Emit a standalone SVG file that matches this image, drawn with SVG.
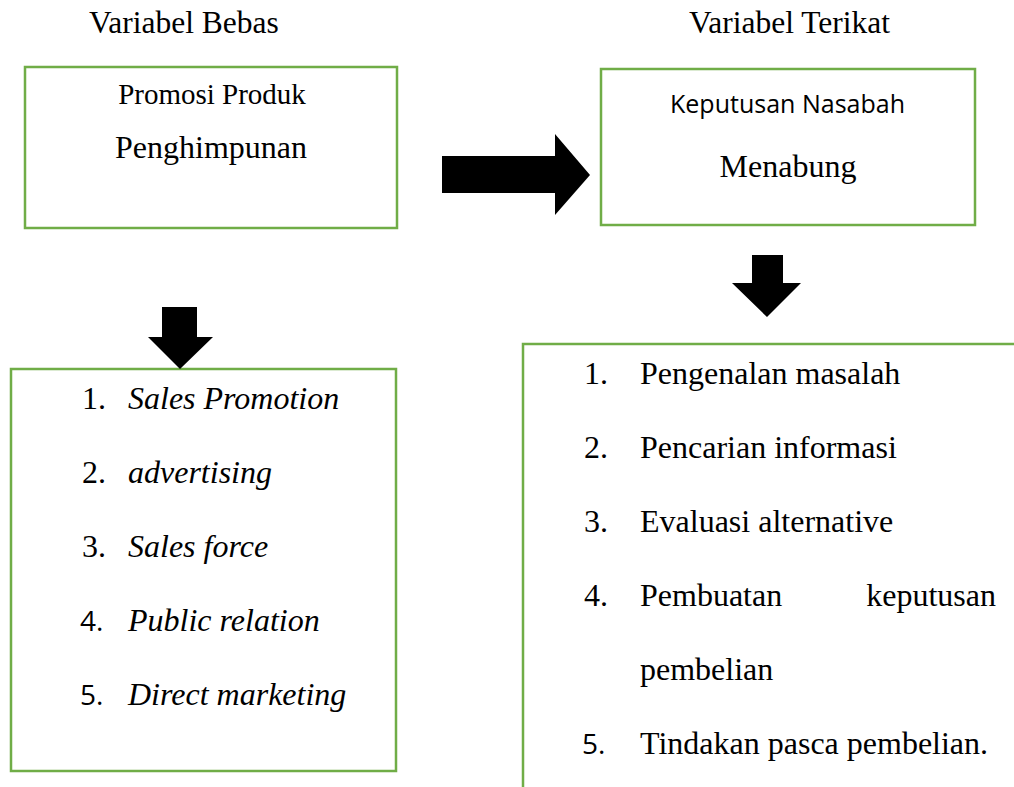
<svg xmlns="http://www.w3.org/2000/svg" width="1014" height="787" viewBox="0 0 1014 787">
<style>
.box{fill:none;stroke:#70AD47;stroke-width:2.5}
.arr{fill:#000}
.t{font-family:"Liberation Serif","Times New Roman",serif;fill:#000}
.s{font-family:"Open Sans","Liberation Sans",sans-serif;fill:#000}
.i{font-style:italic}
.l{font-size:32px}
.n{font-size:28px}
</style>
<rect width="1014" height="787" fill="#fff"/>
<text class="t" x="89" y="33" font-size="31.5">Variabel Bebas</text>
<text class="t" x="689" y="33" font-size="31.5">Variabel Terikat</text>
<g id="promosi">
<rect class="box" x="25" y="67" width="372" height="161"/>
<text class="t" x="212" y="104" font-size="29" text-anchor="middle">Promosi Produk</text>
<text class="t" x="211" y="158" font-size="32" text-anchor="middle">Penghimpunan</text>
</g>
<g id="keputusan">
<rect class="box" x="601" y="69" width="374" height="156"/>
<text class="s" x="670" y="113" font-size="25" textLength="235" lengthAdjust="spacingAndGlyphs">Keputusan Nasabah</text>
<text class="t" x="788" y="177" font-size="32" text-anchor="middle">Menabung</text>
</g>
<g id="indikator-promosi">
<rect class="box" x="11" y="369" width="385" height="402"/>
<text class="t l" x="82" y="409">1.</text>
<text class="t i l" x="128" y="409">Sales Promotion</text>
<text class="t l" x="82" y="483">2.</text>
<text class="t i l" x="128" y="483">advertising</text>
<text class="t l" x="82" y="557">3.</text>
<text class="t i l" x="128" y="557">Sales force</text>
<text class="s n" x="80" y="631">4.</text>
<text class="t i l" x="128" y="631">Public relation</text>
<text class="s n" x="80" y="705">5.</text>
<text class="t i l" x="128" y="705">Direct marketing</text>
</g>
<g id="indikator-keputusan">
<path class="box" d="M1014,344 H523 V787"/>
<text class="t l" x="584" y="384">1.</text>
<text class="t l" x="640" y="384">Pengenalan masalah</text>
<text class="t l" x="584" y="458">2.</text>
<text class="t l" x="640" y="458">Pencarian informasi</text>
<text class="t l" x="584" y="532">3.</text>
<text class="t l" x="640" y="532">Evaluasi alternative</text>
<text class="t l" x="584" y="606">4.</text>
<text class="t l" x="640" y="606">Pembuatan</text>
<text class="t l" x="996" y="606" text-anchor="end">keputusan</text>
<text class="t l" x="640" y="680">pembelian</text>
<text class="s n" x="582" y="754">5.</text>
<text class="t l" x="640" y="754">Tindakan pasca pembelian.</text>
</g>
<g id="connectors">
<polygon class="arr" points="442,156 555,156 555,134 590,175 555,215 555,193 442,193"/>
<polygon class="arr" points="162,307 197,307 197,337 213,337 180,369 148,337 162,337"/>
<polygon class="arr" points="752,255 783,255 783,283 801,283 767,317 732,283 752,283"/>
</g>
</svg>
